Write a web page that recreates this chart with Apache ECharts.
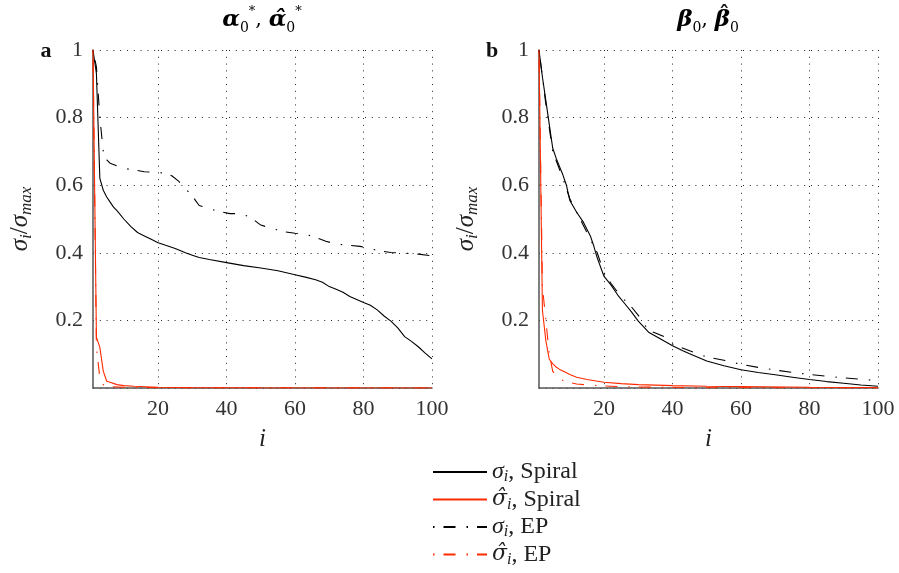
<!DOCTYPE html>
<html><head><meta charset="utf-8">
<script src="https://cdn.jsdelivr.net/npm/echarts@6/dist/echarts.min.js"></script>
<style>html,body{margin:0;padding:0;background:#fff}#c{width:899px;height:573px}</style>
</head><body><div id="c"></div>
<script>
// ---- tick labels ----
const xTicks = [20, 40, 60, 80, 100];
const yTicks = [0.2, 0.4, 0.6, 0.8, 1];
const seriesNames = ['σi, Spiral', 'σ̂i, Spiral', 'σi, EP', 'σ̂i, EP'];

// ---- panel a : alpha ----
const aSpiralI = [1,2,3,4,5,6,7,8,10,12,14,16,18,20,22,25,28,30,32,35,40,45,50,55,60,63,66,68,70,72,74,76,78,80,82,84,86,88,90,92,94,96,98,100];
const aSpiralV = [1.0,0.93,0.62,0.585,0.565,0.55,0.535,0.525,0.50,0.478,0.46,0.45,0.44,0.43,0.423,0.413,0.40,0.393,0.386,0.38,0.371,0.362,0.355,0.347,0.335,0.328,0.32,0.313,0.300,0.292,0.283,0.271,0.262,0.253,0.245,0.231,0.213,0.198,0.178,0.152,0.138,0.122,0.103,0.086];
const aSpiralHatI = [1,2,3,4,5,6,8,10,13,20,30,50,100];
const aSpiralHatV = [1.0,0.15,0.12,0.05,0.02,0.017,0.01,0.007,0.005,0.002,0.001,0.0005,0.0001];
const aEPI = [1,2,3,4,5,6,8,10,13,16,19,22,24,26,28,30,32,35,38,41,44,47,50,54,57,60,63,66,69,72,75,79,82,85,88,92,96,100];
const aEPV = [1.0,0.95,0.80,0.70,0.675,0.665,0.657,0.650,0.645,0.640,0.638,0.636,0.628,0.612,0.590,0.568,0.540,0.530,0.522,0.516,0.516,0.505,0.482,0.470,0.462,0.458,0.455,0.446,0.434,0.426,0.423,0.419,0.412,0.405,0.401,0.399,0.396,0.391];
const aEPHatI = [1,2,3,4,6,10,20,100];
const aEPHatV = [1.0,0.12,0.03,0.01,0.004,0.002,0.001,0.0001];

// ---- panel b : beta ----
const bSpiralI = [1,2,3,4,5,6,7,8,9,10,12,14,16,17,18,20,22,24,26,28,30,33,36,40,43,46,50,55,60,65,70,75,80,85,90,95,100];
const bSpiralV = [1.0,0.92,0.85,0.78,0.71,0.68,0.655,0.63,0.60,0.555,0.52,0.49,0.45,0.42,0.385,0.33,0.305,0.275,0.25,0.225,0.198,0.165,0.148,0.125,0.11,0.097,0.08,0.066,0.054,0.046,0.039,0.032,0.025,0.019,0.014,0.009,0.005];
const bSpiralHatI = [1,2,3,4,5,6,7,8,10,12,15,20,25,30,40,50,60,80,100];
const bSpiralHatV = [1.0,0.23,0.14,0.085,0.072,0.062,0.055,0.05,0.04,0.032,0.025,0.017,0.013,0.01,0.007,0.005,0.004,0.002,0.001];
const bEPI = [1,3,5,8,10,12,15,18,20,22,25,28,30,33,35,38,40,45,50,55,60,65,70,75,80,85,90,95,100];
const bEPV = [1.0,0.84,0.70,0.62,0.56,0.52,0.46,0.40,0.34,0.31,0.27,0.24,0.215,0.17,0.163,0.15,0.13,0.11,0.092,0.082,0.07,0.061,0.053,0.046,0.04,0.035,0.03,0.026,0.022];
const bEPHatI = [1,2,3,4,5,6,7,8,10,12,15,20,25,30,50,100];
const bEPHatV = [1.0,0.30,0.20,0.10,0.05,0.035,0.028,0.022,0.016,0.012,0.009,0.006,0.004,0.003,0.001,0.0003];

const FONT = 'Liberation Serif';
const DJ = 'DejaVu Serif';
const BLACK = '#000000', RED = '#ff2a00';
const DASHDOT = [1.5, 9, 12, 11];

function pairs(xs, ys) { return xs.map((x, k) => [x, ys[k]]); }

function richSet(size, sub, lh) {
  return {
    g: {fontFamily: FONT, fontStyle: 'italic', fontSize: size, lineHeight: lh, color: '#222'},
    h: {fontFamily: DJ, fontStyle: 'italic', fontSize: size - 2, lineHeight: lh, color: '#222'},
    s: {fontFamily: FONT, fontStyle: 'italic', fontSize: sub, lineHeight: sub, verticalAlign: 'bottom', color: '#222'},
    t: {fontFamily: FONT, fontSize: size, lineHeight: lh, color: '#222'}
  };
}
const axisRich = richSet(25, 17, 30);
const legRich = richSet(24, 16, 26);
const legendRich = {
  [seriesNames[0]]: '{g|σ}{s|i}{t|, Spiral}',
  [seriesNames[1]]: '{h|σ̂}{s|i}{t|, Spiral}',
  [seriesNames[2]]: '{g|σ}{s|i}{t|, EP}',
  [seriesNames[3]]: '{h|σ̂}{s|i}{t|, EP}'
};

function mkX(idx) {
  return {
    type: 'value', gridIndex: idx, min: 1, max: 100,
    name: '{g|i}', nameLocation: 'middle', nameGap: 36,
    nameTextStyle: {rich: axisRich},
    axisLine: {show: true, onZero: false, lineStyle: {color: '#555', width: 1.5}},
    axisTick: {show: false, customValues: xTicks},
    axisLabel: {customValues: xTicks, fontFamily: FONT, fontSize: 22, color: '#333', margin: 10},
    splitLine: {show: true, lineStyle: {color: '#222', width: 1, type: [1, 5.8]}}
  };
}
function mkY(idx) {
  return {
    type: 'value', gridIndex: idx, min: 0, max: 1, interval: 0.2,
    name: '{g|σ}{s|i}{t|/}{g|σ}{s|max}', nameLocation: 'middle', nameGap: 58, nameRotate: 90,
    nameTextStyle: {rich: axisRich},
    axisLine: {show: true, onZero: false, lineStyle: {color: '#555', width: 1.5}},
    axisTick: {show: false},
    axisLabel: {fontFamily: FONT, fontSize: 22, color: '#333', margin: 10,
      formatter: v => v === 0 ? '' : (v === 1 ? '1' : v.toFixed(1))},
    splitLine: {show: true, lineStyle: {color: '#222', width: 1, type: [1, 5.8]}}
  };
}
function mkS(name, idx, xs, ys, color, dash) {
  return {
    name: name, type: 'line', xAxisIndex: idx, yAxisIndex: idx,
    data: pairs(xs, ys), symbol: 'none', animation: false,
    lineStyle: {color: color, width: 1.1, type: dash ? DASHDOT : 'solid'},
    itemStyle: {color: color}
  };
}

const titleRich = {
  B: {fontFamily: DJ, fontWeight: 'bold', fontStyle: 'italic', fontSize: 23, lineHeight: 30, color: '#111'},
  c: {fontFamily: DJ, fontSize: 21, lineHeight: 30, color: '#111'},
  p: {fontFamily: DJ, fontSize: 14, lineHeight: 12, verticalAlign: 'bottom', color: '#111'},
  q: {fontFamily: DJ, fontSize: 13, lineHeight: 14, verticalAlign: 'top', color: '#111'}
};

// measure title pieces to place the hat of the second beta
const mctx = document.createElement('canvas').getContext('2d');
function tw(font, s) { mctx.font = font; return mctx.measureText(s).width; }
const wB = tw('italic bold 23px "DejaVu Serif"', 'β');
const wP = tw('14px "DejaVu Serif"', '0');
const wC = tw('21px "DejaVu Serif"', ', ');
const bTitleW = 2 * wB + 2 * wP + wC;
const hatX = 708 - bTitleW / 2 + wB + wP + wC + wB * 0.62;

const chart = echarts.init(document.getElementById('c'));
chart.setOption({
  backgroundColor: '#fff',
  animation: false,
  grid: [
    {left: 93, right: 467, top: 50, bottom: 185},
    {left: 539, right: 21, top: 50, bottom: 185}
  ],
  xAxis: [mkX(0), mkX(1)],
  yAxis: [mkY(0), mkY(1)],
  legend: {
    orient: 'vertical', left: 432, top: 460, height: 113, padding: 0,
    itemWidth: 54, itemHeight: 14, itemGap: 2.5,
    data: seriesNames,
    itemStyle: {opacity: 0},
    formatter: n => legendRich[n],
    textStyle: {rich: legRich}
  },
  graphic: [
    {type: 'text', style: {x: 262, y: 20, align: 'center', verticalAlign: 'middle',
      text: '{B|α}{p|0}{q|*}{c|, }{B|α̂}{p|0}{q|*}', rich: titleRich}},
    {type: 'text', style: {x: 708, y: 20, align: 'center', verticalAlign: 'middle',
      text: '{B|β}{p|0}{c|, }{B|β}{p|0}', rich: titleRich}},
    {type: 'text', style: {x: hatX, y: 16, align: 'center', verticalAlign: 'middle', text: 'ˆ',
      fontFamily: DJ, fontWeight: 'bold', fontSize: 20, fill: '#111'}},
    {type: 'text', style: {x: 46, y: 51, align: 'center', verticalAlign: 'middle', text: 'a',
      fontFamily: FONT, fontWeight: 'bold', fontSize: 22, fill: '#111'}},
    {type: 'text', style: {x: 492, y: 51, align: 'center', verticalAlign: 'middle', text: 'b',
      fontFamily: FONT, fontWeight: 'bold', fontSize: 22, fill: '#111'}}
  ],
  series: [
    mkS(seriesNames[2], 0, aEPI, aEPV, BLACK, true),
    mkS(seriesNames[3], 0, aEPHatI, aEPHatV, RED, true),
    mkS(seriesNames[0], 0, aSpiralI, aSpiralV, BLACK, false),
    mkS(seriesNames[1], 0, aSpiralHatI, aSpiralHatV, RED, false),
    mkS(seriesNames[2], 1, bEPI, bEPV, BLACK, true),
    mkS(seriesNames[3], 1, bEPHatI, bEPHatV, RED, true),
    mkS(seriesNames[0], 1, bSpiralI, bSpiralV, BLACK, false),
    mkS(seriesNames[1], 1, bSpiralHatI, bSpiralHatV, RED, false)
  ]
});
</script></body></html>
